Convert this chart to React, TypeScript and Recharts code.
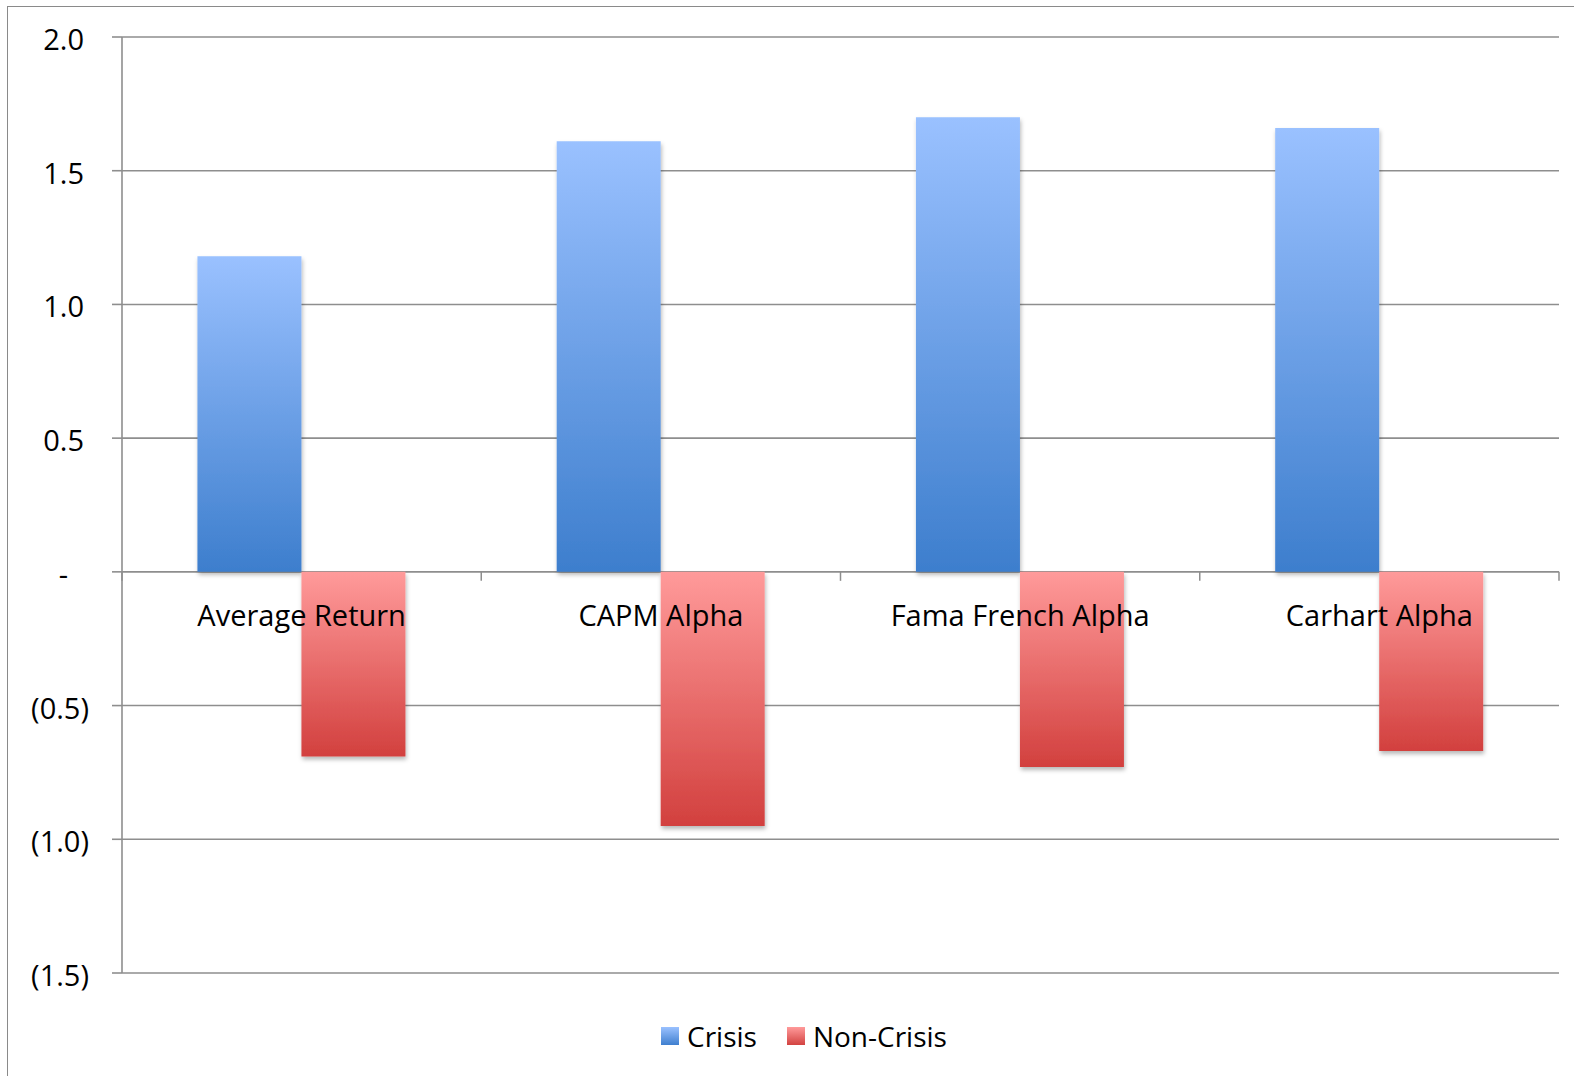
import { BarChart, Bar, XAxis, YAxis, CartesianGrid, Legend } from "recharts";

const categories = ["Average Return", "CAPM Alpha", "Fama French Alpha", "Carhart Alpha"];
const crisis = [1.18, 1.61, 1.7, 1.66];
const nonCrisis = [-0.69, -0.95, -0.73, -0.67];
const yTicks = [-1.5, -1, -0.5, 0, 0.5, 1, 1.5, 2];
const seriesNames = ["Crisis", "Non-Crisis"];

const W = 1574;
const H = 1076;
const X_AXIS_H = 2;
const MARGIN = { top: 37, right: 15, left: 0, bottom: 103 - X_AXIS_H };
const Y_AXIS_W = 122;
const Y_MIN = -1.5;
const Y_MAX = 2;
const FONT = "'Open Sans', sans-serif";
const GRID = "#8e8e8e";

const data = categories.map((name, i) => ({
  name,
  crisis: crisis[i],
  nonCrisis: nonCrisis[i],
}));

// zero line position inside the plot area
const plotH = H - MARGIN.top - MARGIN.bottom - X_AXIS_H;
const plotW = W - MARGIN.left - MARGIN.right - Y_AXIS_W;
const zeroY = MARGIN.top + (plotH * Y_MAX) / (Y_MAX - Y_MIN);
const band = plotW / categories.length;

function fmt(v: number) {
  if (v === 0) return "-";
  if (v < 0) return `(${Math.abs(v).toFixed(1)})`;
  return v.toFixed(1);
}

function YTick(props: any) {
  const { x, y, payload } = props;
  const v = payload.value as number;
  const dx = v === 0 ? -44 : v < 0 ? -23 : -28;
  return (
    <text x={x + dx} y={y + 13} textAnchor="end" fontFamily={FONT} fontSize={29} fill="#000">
      {fmt(v)}
    </text>
  );
}

// category label hangs under the zero line, with boundary ticks on it
function XTick(props: any) {
  const { x, payload, index } = props;
  const left = x - band / 2;
  const right = x + band / 2;
  return (
    <g>
      <line x1={left} x2={left} y1={zeroY} y2={zeroY + 9} stroke={GRID} strokeWidth={1.5} />
      {index === categories.length - 1 && (
        <line x1={right} x2={right} y1={zeroY} y2={zeroY + 9} stroke={GRID} strokeWidth={1.5} />
      )}
      <text x={x} y={zeroY + 54} textAnchor="middle" fontFamily={FONT} fontSize={29} fill="#000">
        {payload.value}
      </text>
    </g>
  );
}

function LegendContent() {
  const items = [
    { label: seriesNames[0], top: "#9ac1ff", bottom: "#3f7fcf" },
    { label: seriesNames[1], top: "#ff9a9a", bottom: "#d24341" },
  ];
  return (
    <div style={{ display: "flex", alignItems: "center", fontFamily: FONT, fontSize: 28, color: "#000", whiteSpace: "nowrap" }}>
      {items.map((it) => (
        <div key={it.label} style={{ display: "flex", alignItems: "center", marginRight: 30 }}>
          <span
            style={{
              display: "inline-block",
              width: 18,
              height: 18,
              marginRight: 8,
              background: `linear-gradient(${it.top}, ${it.bottom})`,
            }}
          />
          <span>{it.label}</span>
        </div>
      ))}
    </div>
  );
}

export default function App() {
  return (
    <div style={{ position: "absolute", left: 0, top: 0, width: W, height: H, background: "#fff", overflow: "hidden" }}>
      <div
        style={{
          position: "absolute",
          left: 7,
          top: 6,
          width: W,
          height: H,
          borderLeft: "1.5px solid #8a8a8a",
          borderTop: "1.5px solid #8a8a8a",
        }}
      />
      <div style={{ position: "absolute", left: 0, top: 0 }}>
        <BarChart width={W} height={H} data={data} margin={MARGIN} barCategoryGap="21%" barGap={0}>
          <defs>
            <linearGradient id="blueGrad" x1="0" y1="0" x2="0" y2="1">
              <stop offset="0%" stopColor="#9ac1ff" />
              <stop offset="100%" stopColor="#3d7ecd" />
            </linearGradient>
            <linearGradient id="redGrad" x1="0" y1="0" x2="0" y2="1">
              <stop offset="0%" stopColor="#ff9a9a" />
              <stop offset="100%" stopColor="#d2403e" />
            </linearGradient>
            <filter id="barShadow" x="-10%" y="-10%" width="130%" height="130%">
              <feDropShadow dx="1" dy="3" stdDeviation="2" floodColor="#000" floodOpacity="0.28" />
            </filter>
          </defs>
          <CartesianGrid vertical={false} stroke={GRID} strokeWidth={1.6} />
          <YAxis
            width={Y_AXIS_W}
            domain={[Y_MIN, Y_MAX]}
            ticks={yTicks}
            interval={0}
            tickSize={10}
            tickMargin={0}
            axisLine={{ stroke: GRID, strokeWidth: 1.6 }}
            tickLine={{ stroke: GRID, strokeWidth: 1.6 }}
            tick={<YTick />}
          />
          <Legend
            content={<LegendContent />}
            wrapperStyle={{ top: 1017, left: 661, height: 0, width: "auto" }}
          />
          <Bar dataKey="crisis" name={seriesNames[0]} fill="url(#blueGrad)" filter="url(#barShadow)" isAnimationActive={false} />
          <Bar dataKey="nonCrisis" name={seriesNames[1]} fill="url(#redGrad)" filter="url(#barShadow)" isAnimationActive={false} />
          <XAxis
            dataKey="name"
            height={X_AXIS_H}
            axisLine={false}
            tickLine={false}
            tick={<XTick />}
            interval={0}
          />
        </BarChart>
      </div>
    </div>
  );
}
